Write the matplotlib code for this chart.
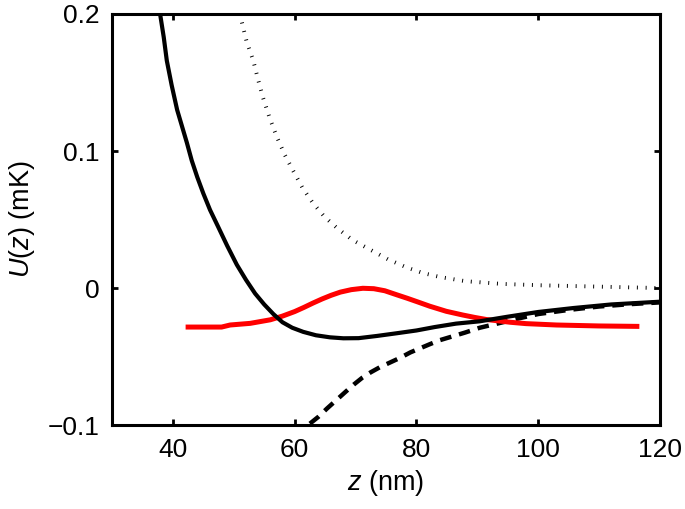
import matplotlib
matplotlib.use("Agg")
import matplotlib.pyplot as plt

plt.rcParams['font.family'] = ['Liberation Sans', 'DejaVu Sans']
plt.rcParams['mathtext.fontset'] = 'custom'
plt.rcParams['mathtext.it'] = 'Liberation Sans:italic'
plt.rcParams['mathtext.rm'] = 'Liberation Sans'

# total potential (solid)
z_total = [37.9, 38.5, 39.0, 39.8, 40.7, 41.5, 42.3, 43.1, 44.0, 45.0, 46.1, 47.4, 48.9,
           50.5, 52.0, 53.5, 55.0, 56.5, 58.0, 59.6, 61.4, 63.5, 65.8, 68.0, 70.5, 73.5,
           76.8, 80.0, 83.0, 86.5, 90.4, 94.9, 100.0, 105.8, 112.0, 120.0]
u_total = [0.2, 0.183, 0.166, 0.148, 0.130, 0.118, 0.106, 0.093, 0.081, 0.069, 0.057, 0.045, 0.031,
           0.017, 0.006, -0.004, -0.012, -0.019, -0.025, -0.029, -0.032, -0.0345, -0.036, -0.0367,
           -0.0366, -0.035, -0.033, -0.031, -0.0285, -0.026, -0.0243, -0.021, -0.0175, -0.0146,
           -0.012, -0.010]

# attractive part (dashed)
z_attr = [62.5, 63.9, 65.3, 66.8, 68.3, 69.7, 71.1, 72.5, 74.0, 75.6, 77.3, 79.0, 80.6, 82.2,
          83.9, 86.0, 88.0, 90.4, 92.3, 94.2, 97.0, 100.0, 105.0, 110.0, 115.0, 120.0]
u_attr = [-0.099, -0.094, -0.088, -0.082, -0.076, -0.0705, -0.0655, -0.0615, -0.0578, -0.0545,
          -0.051, -0.047, -0.044, -0.041, -0.038, -0.0352, -0.0325, -0.029, -0.027, -0.025, -0.022,
          -0.019, -0.016, -0.0135, -0.0118, -0.0105]

# repulsive part (dotted)
z_rep = [51.0, 52.1, 53.2, 54.0, 54.8, 55.9, 57.1, 58.4, 59.7, 61.3, 63.0, 64.9, 66.9, 69.5,
         72.4, 75.3, 78.4, 81.0, 83.9, 88.0, 94.0, 100.3, 110.0, 119.5]
u_rep = [0.2, 0.18, 0.166, 0.152, 0.139, 0.124, 0.110, 0.097, 0.086, 0.073, 0.062, 0.052, 0.044,
         0.035, 0.028, 0.021, 0.015, 0.011, 0.008, 0.005, 0.003, 0.002, 0.001, 0.0]

# wavefunction (red)
z_wave = [42.5, 48.0, 49.4, 52.7, 56.0, 58.0, 60.0, 61.5, 63.0, 64.5, 66.0, 67.5, 69.3, 71.2,
          73.0, 74.8, 76.8, 78.5, 80.3, 82.2, 84.9, 87.6, 89.6, 91.5, 93.5, 95.4, 98.0, 103.0,
          110.0, 116.2]
u_wave = [-0.0285, -0.0285, -0.027, -0.0258, -0.0232, -0.0205, -0.0172, -0.0142, -0.011, -0.008,
          -0.0053, -0.003, -0.0012, -0.0002, -0.0005, -0.002, -0.005, -0.0075, -0.0103, -0.0133,
          -0.017, -0.0197, -0.0215, -0.023, -0.024, -0.025, -0.026, -0.027, -0.0277, -0.028]

xticks = [40, 60, 80, 100, 120]
yticks = [-0.1, 0, 0.1, 0.2]
yticklabels = ['\u22120.1', '0', '0.1', '0.2']

fig = plt.figure(figsize=(6.85, 5.09), dpi=100)
ax = fig.add_axes([0.1635, 0.165, 0.8, 0.8075])

ax.plot(z_rep, u_rep, color='black', lw=2.8, linestyle=(0, (0.25, 2.0)), dash_capstyle='butt')
ax.plot(z_attr, u_attr, color='black', lw=3.2, linestyle=(0, (2.6, 1.8)), dash_capstyle='butt')
ax.plot(z_wave, u_wave, color='#ff0000', lw=3.6)
ax.plot(z_total, u_total, color='black', lw=3.0)

ax.set_xlim(30, 120)
ax.set_ylim(-0.1, 0.2)
ax.set_xticks(xticks)
ax.set_xticklabels([str(t) for t in xticks])
ax.set_yticks(yticks)
ax.set_yticklabels(yticklabels)

ax.tick_params(direction='in', length=4, width=2, top=True, right=True, labelsize=19, pad=9)
for s in ax.spines.values():
    s.set_linewidth(2.2)

ax.set_xlabel('$z$ (nm)', fontsize=19.5, labelpad=5)
ax.set_ylabel('$U$($z$) (mK)', fontsize=19.5, labelpad=8)

fig.savefig('out.png', dpi=100)
